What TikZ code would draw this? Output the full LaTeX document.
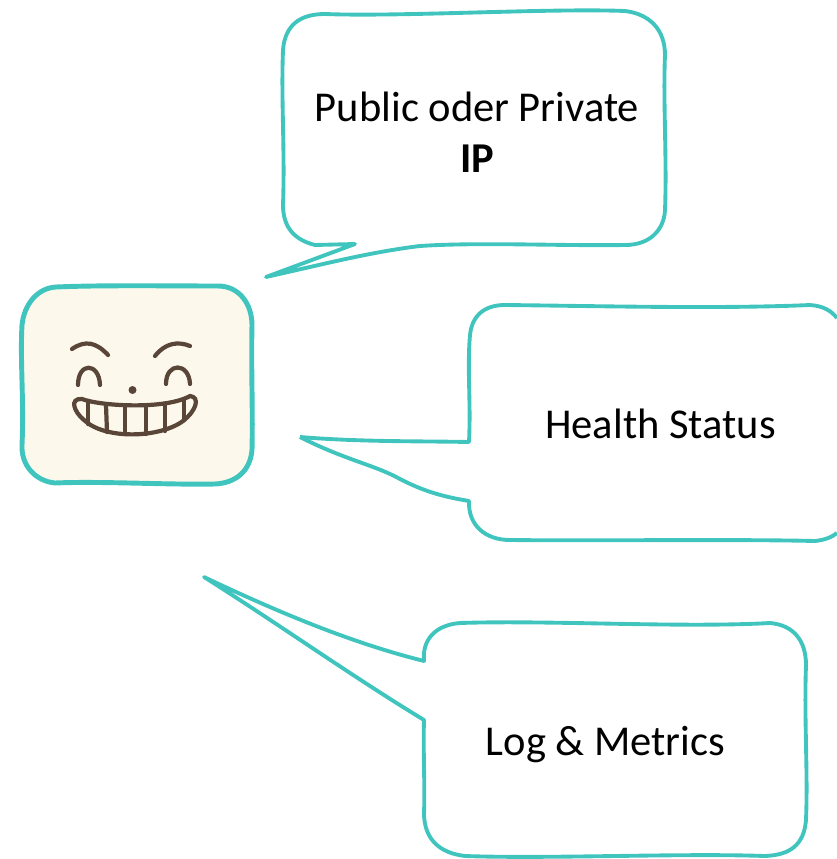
\documentclass[tikz,border=0pt]{standalone}
\usepackage{fontspec}
\setmainfont{Carlito}
\definecolor{bubbleteal}{HTML}{40C4BE}
\definecolor{facecream}{HTML}{FCF9EC}
\definecolor{facebrown}{HTML}{5A4539}
\begin{document}
\begin{tikzpicture}[x=0.02cm,y=-0.02cm]
	\tikzset{
	  BubbleStyle/.style = { draw = bubbleteal, line width = 2.2pt, line join = round },
	  FaceStyle/.style = { draw = facebrown, line width = 2.4pt, line cap = round },
	  LabelStyle/.style = { font = \fontsize{24.2}{29}\selectfont, align = center, inner sep = 0pt }
	}
	\useasboundingbox (0,0) rectangle (836,859);
	\draw[BubbleStyle, fill = facecream, line width = 2.8pt] (56,287)
		.. controls (100,285) and (170,286) .. (218,286)
		.. controls (240,286) and (252,305) .. (252,325)
		.. controls (251,370) and (253,410) .. (252,450)
		.. controls (250,472) and (235,483) .. (215,484)
		.. controls (170,485) and (100,481) .. (55,483)
		.. controls (35,481) and (21,465) .. (22,445)
		.. controls (24,400) and (20,360) .. (22,325)
		.. controls (24,305) and (37,288) .. (56,287) -- cycle;
	\draw[FaceStyle] (72,349) .. controls (85,340) and (96,342) .. (108,355);
	\draw[FaceStyle] (155,356) .. controls (165,343) and (178,341) .. (190,346);
	\draw[FaceStyle] (78,385) .. controls (78,362) and (99,362) .. (100,385);
	\draw[FaceStyle] (166,384) .. controls (166,362) and (189,362) .. (190,384);
	\fill[facebrown] (132.5,390) circle (4);
	\draw[FaceStyle] (82,399) .. controls (100,406) and (165,410) .. (190,396)
		.. controls (200,397) and (197,410) .. (183,421)
		.. controls (160,438) and (105,440) .. (84,420)
		.. controls (74,412) and (69,398) .. (82,399) -- cycle;
	\foreach \tx/\ty/\bx/\by in {88/403/88/424, 106/405/107/432, 125/407/125/434, 146/407/146/434, 165/405/165/431, 184/400/184/420}
		\draw[FaceStyle] (\tx,\ty) -- (\bx,\by);
	\draw[BubbleStyle] (266,277) -- (355,244) -- (315,245)
		.. controls (295,240) and (283,228) .. (283,205)
		.. controls (285,150) and (281,100) .. (283,50)
		.. controls (285,25) and (300,14) .. (325,14)
		.. controls (400,17) and (550,8) .. (625,11)
		.. controls (650,14) and (665,30) .. (665,55)
		.. controls (663,100) and (667,160) .. (665,210)
		.. controls (664,230) and (650,245) .. (625,245)
		.. controls (560,246) and (480,242) .. (420,246)
		.. controls (370,252) and (320,265) .. (266,277) -- cycle;
	\draw[BubbleStyle] (300,437) .. controls (360,442) and (420,441) .. (469,442)
		.. controls (471,400) and (467,370) .. (470,335)
		.. controls (472,315) and (485,305) .. (505,305)
		.. controls (600,306) and (720,309) .. (810,305)
		.. controls (825,306) and (832,312) .. (837,318);
	\draw[BubbleStyle] (300,437) .. controls (345,460) and (375,465) .. (400,479)
		.. controls (425,492) and (445,497) .. (469,501)
		.. controls (468,525) and (485,540) .. (510,540)
		.. controls (600,541) and (730,539) .. (815,541)
		.. controls (825,540) and (832,537) .. (837,533);
	\draw[BubbleStyle] (204,577) .. controls (290,618) and (360,645) .. (424,661)
		.. controls (422,640) and (435,625) .. (460,623)
		.. controls (550,620) and (680,628) .. (770,623)
		.. controls (793,625) and (806,640) .. (806,665)
		.. controls (804,720) and (808,770) .. (806,820)
		.. controls (804,845) and (790,855) .. (765,856)
		.. controls (680,853) and (550,859) .. (465,856)
		.. controls (440,853) and (425,840) .. (424,815)
		.. controls (425,780) and (423,750) .. (424,720)
		.. controls (350,675) and (280,625) .. (204,577) -- cycle;
	\node[LabelStyle] (ipnode) at (477,132) {Public oder Private\\\textbf{IP}};
	\node[LabelStyle] (healthnode) at (660.5,424) {Health Status};
	\node[LabelStyle] (lognode) at (605.5,745) {Log \& Metrics};
\end{tikzpicture}
\end{document}
